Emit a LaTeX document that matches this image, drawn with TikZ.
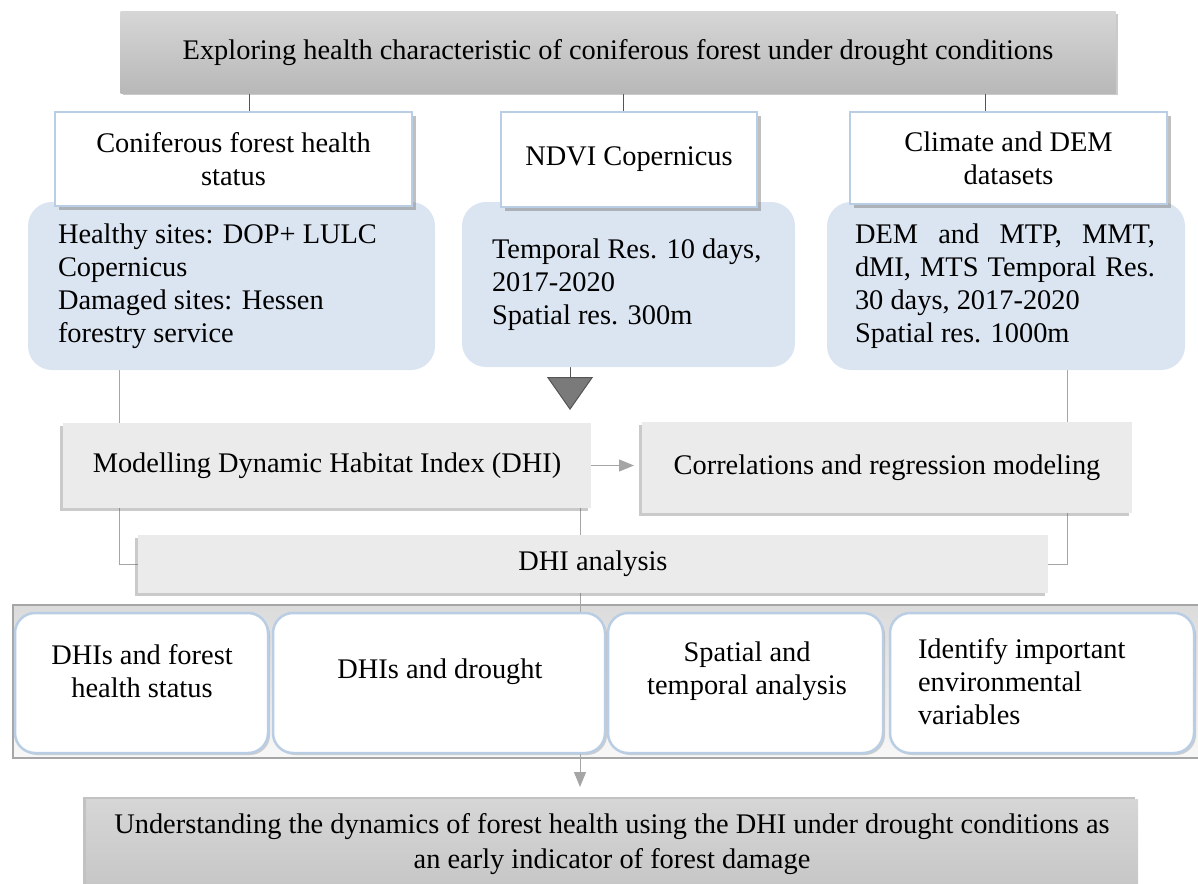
\documentclass[tikz,border=0pt]{standalone}
\usepackage{fontspec}
\setmainfont{Liberation Serif}
\usetikzlibrary{shadows,arrows.meta}
\pgfdeclarelayer{back}
\pgfdeclarelayer{lines}
\pgfsetlayers{back,lines,main}
\definecolor{hdrborder}{RGB}{185,205,229}
\definecolor{bluefill}{RGB}{219,229,241}
\definecolor{boxgray}{RGB}{235,235,235}
\definecolor{barT}{RGB}{214,214,214}
\definecolor{barB}{RGB}{184,184,184}
\definecolor{finT}{RGB}{214,214,214}
\definecolor{finB}{RGB}{198,198,198}
\definecolor{linegray}{RGB}{165,165,165}
\definecolor{darkline}{RGB}{85,85,85}
\definecolor{trigray}{RGB}{122,122,122}
\tikzset{
  every node/.style={font=\fontsize{28.4}{33}\selectfont, inner sep=0pt, outer sep=0pt},
  topbar/.style={rectangle, top color=barT, bottom color=barB, draw=none,
    drop shadow={shadow xshift=2pt, shadow yshift=-2pt, opacity=.35, fill=black!60}},
  hdrbox/.style={rectangle, fill=white, draw=hdrborder, line width=2pt, align=center,
    drop shadow={shadow xshift=4pt, shadow yshift=-4pt, opacity=.45, fill=black!55}},
  bluebox/.style={rectangle, rounded corners=24pt, fill=bluefill, draw=none},
  btext/.style={align=left, anchor=west},
  graybox/.style={rectangle, fill=boxgray, draw=none, align=center,
    general shadow={shadow xshift=-3pt, shadow yshift=-3pt, opacity=.35, fill=black!60}},
  grpbox/.style={rectangle, draw=black!35, line width=1.2pt, top color=black!14, middle color=white, bottom color=black!3},
  lowbox/.style={rectangle, rounded corners=20pt, fill=white, draw=hdrborder, line width=2.5pt,
    drop shadow={shadow xshift=2pt, shadow yshift=-2pt, opacity=.35, fill=black!50}},
  finbox/.style={rectangle, top color=finT, bottom color=finB, draw=none, align=center,
    font=\fontsize{28.4}{35}\selectfont,
    general shadow={shadow xshift=-3pt, shadow yshift=2pt, opacity=.4, fill=black!60}},
  topline/.style={draw=darkline, line width=0.9pt},
  conn/.style={draw=linegray, line width=1pt},
  arrowconn/.style={conn, -{Triangle[length=15pt,width=12pt]}, color=linegray},
  bigarrow/.style={draw=darkline, line width=1pt, -{Triangle[length=33pt,width=46pt,fill=trigray]}},
}
\begin{document}
\begin{tikzpicture}[x=1pt,y=-1pt]
\useasboundingbox (0,0) rectangle (1198,883);

% coordinates for connector x positions
\coordinate (cx1) at (249,0);
\coordinate (cx2) at (623,0);
\coordinate (cx3) at (985,0);
\coordinate (cL) at (119,0);
\coordinate (cR) at (1067,0);
\coordinate (cC) at (580,0);
\coordinate (cT) at (570,0);

% top bar
\node[topbar, minimum width=995pt, minimum height=81pt] (top) at (618,52.5)
  {Exploring health characteristic of coniferous forest under drought conditions};

% blue detail boxes
\node[bluebox, minimum width=407pt, minimum height=168pt] (b1) at (231.5,286) {};
\node[bluebox, minimum width=333pt, minimum height=165pt] (b2) at (628.5,284.5) {};
\node[bluebox, minimum width=358pt, minimum height=168pt] (b3) at (1006,286) {};

% header boxes
\node[hdrbox, minimum width=357pt, minimum height=94pt] (h1) at (233.5,159)
  {Coniferous forest health\\status};
\node[hdrbox, minimum width=256pt, minimum height=95pt] (h2) at (629,159.5)
  {NDVI Copernicus};
\node[hdrbox, minimum width=317pt, minimum height=92pt] (h3) at (1008.5,158)
  {Climate and DEM\\datasets};

% blue texts
\node[btext] (b1t) at (58,286)
  {Healthy sites: DOP+ LULC\\Copernicus\\Damaged sites: Hessen\\forestry service};
\node[btext] (b2t) at (492,284.5)
  {Temporal Res. 10 days,\\2017-2020\\Spatial res. 300m};
\node[btext] (b3t) at (855,286)
  {\makebox[300pt][s]{DEM and MTP, MMT,}\\\makebox[300pt][s]{dMI, MTS Temporal Res.}\\30 days, 2017-2020\\Spatial res. 1000m};

% mid boxes
\node[graybox, minimum width=528pt, minimum height=85pt] (mod) at (327,465.5)
  {Modelling Dynamic Habitat Index (DHI)};
\node[graybox, minimum width=490pt, minimum height=91pt] (cor) at (887,467.5)
  {Correlations and regression modeling};
\node[graybox, minimum width=910pt, minimum height=58pt] (dhi) at (593,564)
  {DHI analysis};

% lower group container
\begin{pgfonlayer}{back}
\node[grpbox, anchor=north west, minimum width=1200pt, minimum height=153pt] (grp) at (13,605) {};
\end{pgfonlayer}

% lower boxes
\node[lowbox, minimum width=253pt, minimum height=140pt] (A) at (141.5,683) {};
\node[lowbox, minimum width=332pt, minimum height=140pt] (B) at (439,683) {};
\node[lowbox, minimum width=275pt, minimum height=140pt] (C) at (745.5,683) {};
\node[lowbox, minimum width=304pt, minimum height=140pt] (D) at (1042,683) {};
\node[align=center] (At) at (142,671.5) {DHIs and forest\\health status};
\node[align=center] (Bt) at (440,672) {DHIs and drought};
\node[align=center] (Ct) at (747,671.5) {Spatial and\\temporal analysis};
\node[btext] (Dt) at (918,681.5) {Identify important\\environmental\\variables};

% final box
\node[finbox, minimum width=1052pt, minimum height=91pt] (fin) at (612,844.5)
  {Understanding the dynamics of forest health using the DHI under drought conditions as\\an early indicator of forest damage};

% connectors (behind the boxes)
\begin{pgfonlayer}{lines}
\draw[topline] (top.south -| cx1) -- (h1.north -| cx1);
\draw[topline] (top.south -| cx2) -- (h2.north -| cx2);
\draw[topline] (top.south -| cx3) -- (h3.north -| cx3);
\draw[conn] (b1.south -| cL) |- (dhi.west);
\draw[conn] (b3.south -| cR) |- (dhi.east);
\draw[arrowconn, shorten >=12pt] (mod.south -| cC) -- (fin.north -| cC);
\draw[bigarrow, shorten >=13pt] (b2.south -| cT) -- (mod.north -| cT);
\draw[arrowconn, shorten >=8pt] (mod.east) -- (mod.east -| cor.west);
\end{pgfonlayer}
\end{tikzpicture}
\end{document}
